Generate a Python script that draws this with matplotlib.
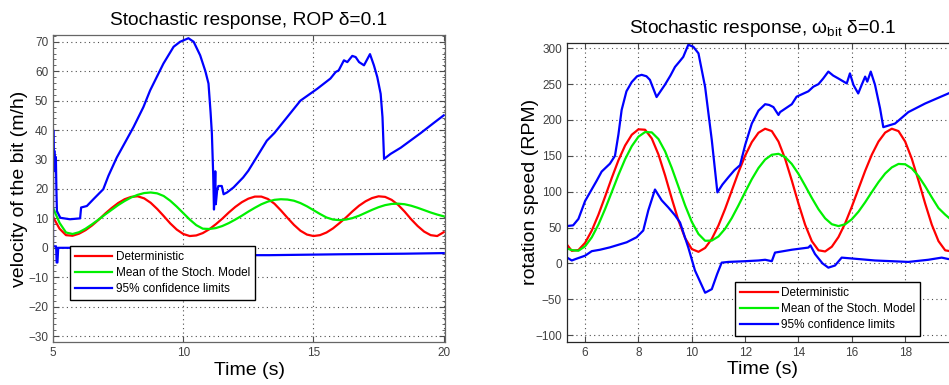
import matplotlib
matplotlib.use("Agg")
import matplotlib.pyplot as plt
from matplotlib.ticker import MultipleLocator

plt.rcParams['font.family'] = ['Liberation Sans', 'DejaVu Sans']
plt.rcParams['mathtext.fontset'] = 'custom'
plt.rcParams['mathtext.rm'] = 'Liberation Sans'
plt.rcParams['mathtext.it'] = 'Liberation Sans'

# ---------------- data: left panel (ROP, m/h) ----------------
t_grid_left = [5.0 + 0.25 * i for i in range(61)]
rop_det = [10.5, 6.5, 4.3, 4.1, 4.8, 6.0, 7.6, 9.5, 11.6, 13.5, 15.2, 16.5, 17.3,
           17.5, 16.8, 15.3, 13.2, 10.8, 8.3, 6.2, 4.7, 4.0, 4.2, 5.0, 6.3, 8.0,
           9.9, 12.0, 13.9, 15.5, 16.7, 17.4, 17.4, 16.6, 15.0, 12.7, 10.2, 7.8,
           5.8, 4.5, 4.0, 4.3, 5.2, 6.6, 8.4, 10.3, 12.4, 14.3, 15.8, 16.9, 17.5,
           17.3, 16.3, 14.6, 12.3, 9.7, 7.4, 5.5, 4.3, 4.0, 5.3]
rop_mean = [13.6, 8.5, 5.2, 4.7, 5.3, 6.5, 8.0, 9.6, 11.3, 12.9, 14.5, 15.9, 17.1,
            18.0, 18.6, 18.8, 18.5, 17.6, 16.0, 14.0, 11.8, 9.6, 7.7, 6.5, 6.4,
            6.7, 7.4, 8.4, 9.6, 10.9, 12.3, 13.6, 14.8, 15.7, 16.3, 16.5, 16.4,
            16.0, 15.2, 14.1, 12.8, 11.5, 10.3, 9.6, 9.4, 9.6, 10.1, 10.9, 11.9,
            12.9, 13.8, 14.5, 14.9, 15.0, 14.8, 14.3, 13.6, 12.8, 12.0, 11.3, 10.7]
rop_up_t = [5.00, 5.01, 5.03, 5.05, 5.07, 5.09, 5.11, 5.13, 5.15, 5.28, 5.65, 6.04,
            6.08, 6.30, 6.55, 6.93, 7.13, 7.45, 8.09, 8.47, 8.73, 9.24, 9.63, 9.88,
            10.20, 10.40, 10.65, 10.85, 10.97, 11.05, 11.10, 11.15, 11.18, 11.20,
            11.23, 11.25, 11.30, 11.35, 11.48, 11.55, 11.68, 11.93, 12.30, 12.50,
            13.21, 13.50, 14.00, 14.50, 15.14, 15.65, 15.85, 15.97, 16.17, 16.30,
            16.49, 16.62, 16.75, 16.94, 17.17, 17.32, 17.45, 17.58, 17.65, 17.71,
            17.96, 18.35, 19.12, 19.63, 20.00]
rop_up_v = [0.5, 40, 26, 33, 27, 31, 30.7, 20, 12.5, 10.2, 9.7, 10.0,
            13.7, 14.2, 16.5, 19.9, 24.5, 30.7, 41, 47.8, 53.5, 62.6, 68.3, 70,
            71.2, 70, 65.4, 60, 55.8, 46, 38.8, 25, 13, 17,
            26, 14.8, 19.4, 21, 21, 18.2, 18.8, 20.5, 23.9, 26.2,
            36.4, 39, 44.5, 50, 54, 57.5, 59.7, 60.3, 63.7, 63.1,
            65.2, 64.8, 63.1, 62, 65.8, 62, 58, 52.3, 44.4, 30.2,
            31.9, 34, 39, 42.5, 45]
rop_lo_t = [5.00, 5.12, 5.14, 5.17, 5.20, 5.65, 6.00, 13.30, 16.00, 18.50, 20.00]
rop_lo_v = [0.5, 0.5, -5, -5, 0, 0, -2.5, -2.5, -2.2, -2.0, -1.8]

# ---------------- data: right panel (omega_bit, RPM) ----------------
t_grid_right = [5.3] + [5.5 + 0.25 * i for i in range(59)]
rpm_det = [27, 17.5, 18.6, 28.6, 45.7, 67.9, 93.1, 119.2, 143.8, 164.4, 179.4, 187,
           186.4, 174.2, 151.9, 122.6, 90.3, 59.8, 35.2, 19.9, 16.1, 21.5, 34.1,
           52.9, 76, 101.5, 127, 150.2, 169.1, 182.2, 187.8, 184.5, 169.9, 145.8,
           115.5, 83.4, 53.8, 31, 18.2, 16.6, 23.2, 36.7, 55.8, 79, 104, 129,
           151.6, 169.9, 182.4, 187.8, 184.5, 169.9, 145.8, 115.5, 83.4, 53.8,
           31, 18.2, 16.5, 22]
rpm_mean = [21, 18.5, 17.6, 23.8, 36.3, 54.1, 75.8, 99.5, 123.4, 145.3, 163.5,
            176.7, 183.2, 182.7, 173.4, 156.2, 133.1, 107, 80.8, 57.9, 41, 31.5,
            31.8, 37.5, 48.3, 63.2, 80.8, 99.4, 117.4, 133, 144.8, 151.5, 152.8,
            148.3, 138.6, 124.8, 108.3, 91.3, 75.5, 62.8, 54.6, 52, 54.5, 61.5,
            72.1, 85.2, 99.5, 113.3, 125.3, 133.9, 138.7, 138.2, 132.4, 121.7,
            107.6, 92, 77.1, 68, 60, 55]
rpm_up_t = [5.31, 5.55, 5.75, 6.00, 6.43, 6.62, 6.93, 7.12, 7.25, 7.37, 7.55, 7.75,
            7.95, 8.12, 8.30, 8.43, 8.68, 8.99, 9.20, 9.37, 9.55, 9.68, 9.87, 10.06,
            10.25, 10.50, 10.75, 10.96, 11.15, 11.37, 11.60, 11.81, 12.00, 12.25,
            12.50, 12.75, 12.90, 13.06, 13.25, 13.31, 13.75, 13.93, 14.37, 14.56,
            14.75, 14.93, 15.12, 15.30, 15.49, 15.81, 15.93, 16.06, 16.24, 16.37,
            16.50, 16.58, 16.71, 16.87, 17.06, 17.18, 17.62, 18.12, 18.75, 19.62,
            20.00]
rpm_up_v = [52, 53, 62, 87, 115, 128, 139, 150, 180, 214, 240, 253,
            261, 263, 261, 256, 232, 249, 262, 274, 282, 288, 305, 302,
            293, 246, 172, 99, 110, 120, 130, 137, 165, 195,
            213, 222, 221, 218, 207, 211, 222, 232.5, 240, 246.5,
            250, 258, 267.5, 262, 258, 251, 265, 249, 237, 249,
            260.5, 253.5, 267.5, 249, 216, 190, 195, 211, 223, 237,
            243]
rpm_lo_t = [5.31, 5.50, 5.68, 6.00, 6.25, 6.56, 6.93, 7.56, 7.93, 8.18, 8.37, 8.62,
            8.87, 9.12, 9.37, 9.56, 9.87, 10.12, 10.50, 10.75, 10.95, 11.12, 11.37,
            12.00, 12.50, 12.75, 13.00, 13.12, 13.75, 14.37, 14.45, 14.62, 14.90,
            15.12, 15.37, 15.62, 16.25, 16.87, 17.50, 18.12, 18.87, 19.37, 19.62,
            20.00]
rpm_lo_v = [8.4, 4.0, 6.5, 10.7, 17.0, 19.0, 22.3, 29.4, 36.4, 45.8, 74, 103,
            88, 78, 67, 57, 22, -10, -41, -36, -15, 1, 2,
            3, 4, 5, 3, 15, 19, 22, 25, 13, 0,
            -6, -3, 8, 6, 4, 3, 2, 5, 8, 6,
            7]

labels = ['Deterministic', 'Mean of the Stoch. Model', '95% confidence limits']

fig = plt.figure(figsize=(9.49, 3.85), dpi=100)
ax1 = fig.add_axes([53 / 949, 43 / 385, 392 / 949, 307 / 385])
ax2 = fig.add_axes([566.7 / 949, 43.3 / 385, 391.8 / 949, 298.7 / 385])

LW = 1.6
RED = '#ff0000'
GREEN = '#00f000'
BLUE = '#0000ff'


def style(ax, spine_color):
    ax.tick_params(which='both', direction='in', top=True, right=True,
                   labelsize=8.5, labelcolor='0.25', color='0.3')
    ax.tick_params(which='major', length=4)
    ax.tick_params(which='minor', length=2)
    ax.grid(True, which='major', linestyle=(0, (1, 3)), color='0.3', linewidth=0.8)
    for s in ax.spines.values():
        s.set_color(spine_color)
        s.set_linewidth(0.9)


# left panel
l1, = ax1.plot(t_grid_left, rop_det, color=RED, lw=LW)
l2, = ax1.plot(t_grid_left, rop_mean, color=GREEN, lw=LW)
l3, = ax1.plot(rop_up_t, rop_up_v, color=BLUE, lw=LW)
ax1.plot(rop_lo_t, rop_lo_v, color=BLUE, lw=LW)
ax1.set_xlim(5, 20.05)
ax1.set_ylim(-32, 72.3)
ax1.set_xticks([5, 10, 15, 20])
ax1.set_yticks(list(range(-30, 71, 10)))
ax1.yaxis.set_minor_locator(MultipleLocator(2))
style(ax1, '0.4')
ax1.set_title('Stochastic response, ROP δ=0.1', fontsize=13.8, pad=7)
ax1.set_xlabel('Time (s)', fontsize=14, labelpad=2)
ax1.set_ylabel('velocity of the bit (m/h)', fontsize=14, labelpad=0)
leg1 = ax1.legend([l1, l2, l3], labels, loc='lower left',
                  bbox_to_anchor=(0.043, 0.137), borderaxespad=0, fontsize=8.5,
                  fancybox=False, framealpha=1, edgecolor='black',
                  handlelength=3.2, handletextpad=0.3, labelspacing=0.35,
                  borderpad=0.4)
leg1.get_frame().set_linewidth(1.0)
leg1.set_zorder(10)

# right panel
r1, = ax2.plot(t_grid_right, rpm_det, color=RED, lw=LW)
r2, = ax2.plot(t_grid_right, rpm_mean, color=GREEN, lw=LW)
r3, = ax2.plot(rpm_up_t, rpm_up_v, color=BLUE, lw=LW)
ax2.plot(rpm_lo_t, rpm_lo_v, color=BLUE, lw=LW)
ax2.set_xlim(5.31, 20)
ax2.set_ylim(-109.3, 307.4)
ax2.set_xticks([6, 8, 10, 12, 14, 16, 18])
ax2.set_yticks(list(range(-100, 301, 50)))
style(ax2, '0.15')
ax2.set_title(r'Stochastic response, $\omega_{\mathrm{bit}}$ δ=0.1', fontsize=13.8, pad=7)
ax2.set_xlabel('Time (s)', fontsize=14, labelpad=2)
ax2.set_ylabel('rotation speed (RPM)', fontsize=14, labelpad=-2.5)
leg2 = ax2.legend([r1, r2, r3], labels, loc='lower left',
                  bbox_to_anchor=(0.43, 0.019), borderaxespad=0, fontsize=8.5,
                  fancybox=False, framealpha=1, edgecolor='black',
                  handlelength=3.2, handletextpad=0.3, labelspacing=0.35,
                  borderpad=0.4)
leg2.get_frame().set_linewidth(1.0)
leg2.set_zorder(10)

fig.savefig('out.png', dpi=100)
